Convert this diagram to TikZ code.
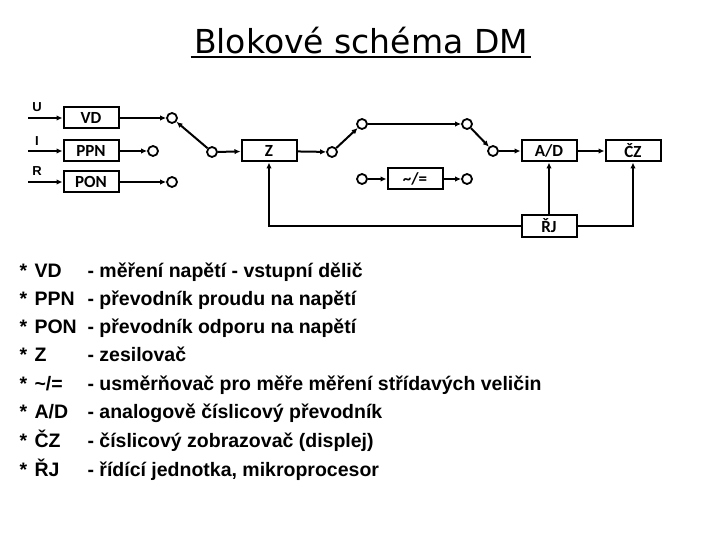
\documentclass[tikz,border=0pt]{standalone}
\usepackage{fontspec}
\setmainfont{Liberation Sans}
\newfontfamily\boxfont{Carlito}
\newfontfamily\titlefont{DejaVu Sans}
\usetikzlibrary{arrows.meta}
\begin{document}
\begin{tikzpicture}[x=1pt,y=-1pt,
  blk/.style={draw,line width=2pt,minimum width=55pt,minimum height=21pt,inner sep=0pt,font=\boxfont\bfseries\fontsize{17}{17}\selectfont},
  term/.style={circle,draw,line width=1.8pt,minimum size=10pt,inner sep=0pt},
  wire/.style={line width=2pt,-{Latex[length=6pt,width=5.5pt]}},
  lbl/.style={font=\bfseries\fontsize{13}{13}\selectfont},
  lst/.style={anchor=base west,font=\bfseries\fontsize{19.5}{20}\selectfont}]
\useasboundingbox (0,0) rectangle (720,540);
\node[font=\titlefont\fontsize{33}{34}\selectfont,anchor=base] (title) at (361,54) {Blokové schéma DM};
\draw[line width=1.4pt] ([yshift=1pt]title.south west) -- ([yshift=1pt]title.south east);
% blocks
\node[blk] (vd) at (91,118) {VD};
\node[blk] (ppn) at (91,151) {PPN};
\node[blk] (pon) at (91,182) {PON};
\node[blk] (z) at (269,151) {Z};
\node[blk] (ad) at (549,151) {A/D};
\node[blk] (cz) at (633,151) {ČZ};
\node[blk] (ac) at (415,179) {\raisebox{1pt}{\textasciitilde/=}};
\node[blk] (rj) at (549,226) {ŘJ};
% terminals
\coordinate (u) at (28,118); \coordinate (i) at (28,151); \coordinate (r) at (28,182);
\node[lbl,anchor=south] at (37,115) {U};
\node[lbl,anchor=south] at (37,149) {I};
\node[lbl,anchor=south] at (37,179) {R};
\node[term] (t1) at (172,118) {};
\node[term] (t2) at (153,151) {};
\node[term] (t3) at (172,182) {};
\node[term] (s1) at (212,152) {};
\node[term] (t4) at (332,152) {};
\node[term] (t5) at (362,124) {};
\node[term] (t6) at (467,124) {};
\node[term] (t7) at (493,151) {};
\node[term] (t8) at (362,179) {};
\node[term] (t9) at (467,179) {};
\draw[wire] (u) -- (vd); \draw[wire] (i) -- (ppn); \draw[wire] (r) -- (pon);
\draw[wire] (vd) -- (t1); \draw[wire] (ppn) -- (t2); \draw[wire] (pon) -- (t3);
\draw[wire] (s1) -- (t1);
\draw[wire] (s1) -- (z);
\draw[wire] (z) -- (t4);
\draw[wire] (t4) -- (t5);
\draw[wire] (t5) -- (t6);
\draw[wire] (t6) -- (t7);
\draw[wire] (t7) -- (ad);
\draw[wire] (ad) -- (cz);
\draw[wire] (t8) -- (ac);
\draw[wire] (ac) -- (t9);
\draw[wire] (rj) -- (ad);
\draw[wire] (rj.east) -| (cz.south);
\draw[wire] (rj.west) -| (z.south);
% list
\foreach \y/\a/\b [count=\k] in {277/VD/- měření napětí - vstupní dělič,
 305/PPN/- převodník proudu na napětí,
 333/PON/- převodník odporu na napětí,
 361/Z/- zesilovač,
 390/{\textasciitilde/=}/- usměrňovač pro měře měření střídavých veličin,
 418/{A/D}/- analogově číslicový převodník,
 447/ČZ/- číslicový zobrazovač (displej),
 476/ŘJ/- řídící jednotka{,} mikroprocesor}{
  \node[lst] (s\k) at (16,\y) {*};
  \node[lst] (a\k) at (31,\y) {\a};
  \node[lst] (b\k) at (84,\y) {\b};
}
\end{tikzpicture}
\end{document}
